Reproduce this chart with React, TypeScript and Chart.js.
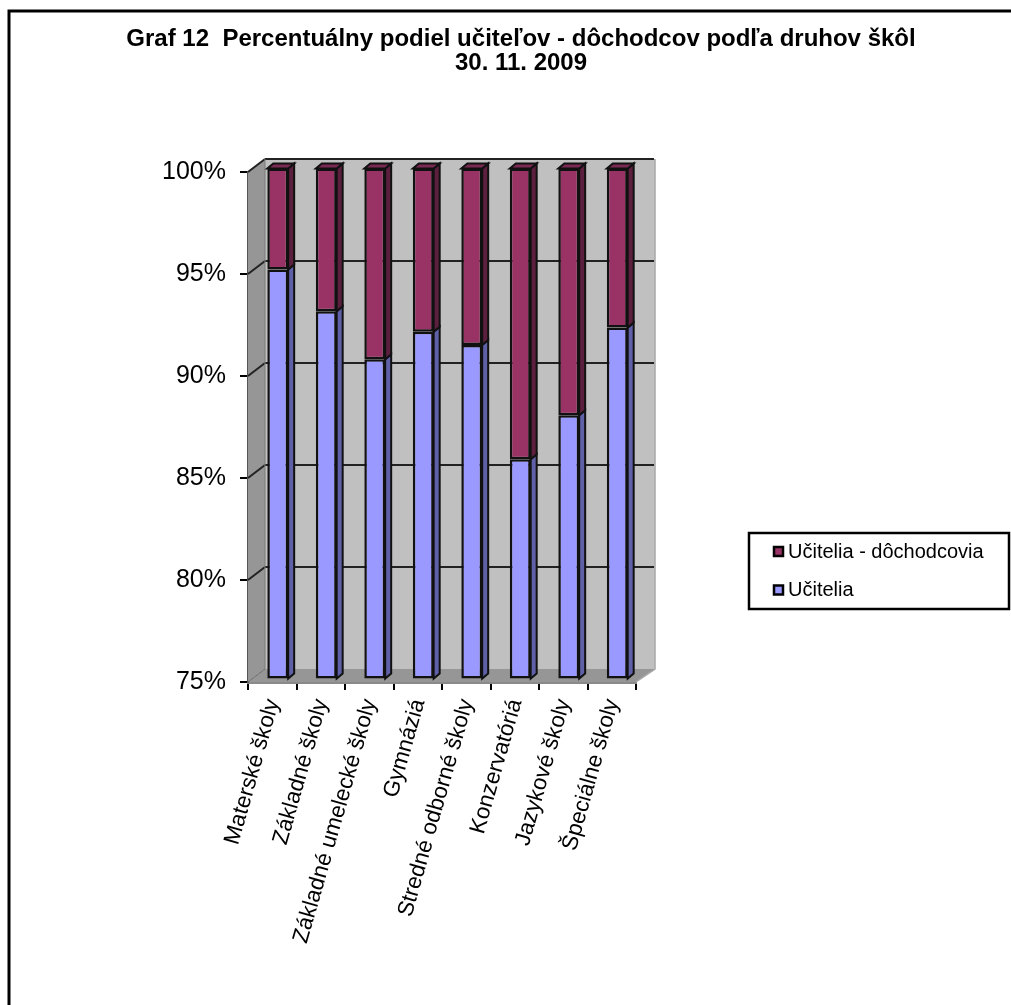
import React, { useEffect, useRef } from "react";
import { Chart, registerables } from "chart.js";

Chart.register(...registerables);

const FONT = '"Liberation Sans", Arial, sans-serif';

const titleLines = [
  "Graf 12  Percentuálny podiel učiteľov - dôchodcov podľa druhov škôl",
  "30. 11. 2009",
];
const categories = [
  "Materské školy",
  "Základné školy",
  "Základné umelecké školy",
  "Gymnáziá",
  "Stredné odborné školy",
  "Konzervatóriá",
  "Jazykové školy",
  "Špeciálne školy",
];
const teachers = [95.05, 93.0, 90.65, 92.0, 91.35, 85.75, 87.9, 92.2];
const retired = [4.95, 7.0, 9.35, 8.0, 8.65, 14.25, 12.1, 7.8];
const seriesNames = ["Učitelia", "Učitelia - dôchodcovia"];
const fills = ["#9999ff", "#993366"];
const sideFills = ["#6060a8", "#5c1f3e"];
const topFills = ["#7a7ad0", "#7a2952"];
const AXIS_MIN = 75;
const AXIS_MAX = 100;

const WALL_DX = 17;
const WALL_DY = -13;
const BAR_DX = 5.5;
const BAR_DY = -3.5;
const BAR_DEPTH_X = 6;
const BAR_DEPTH_Y = -5;

function poly(ctx: CanvasRenderingContext2D, pts: number[][], fill: string | null, stroke?: string, lw = 2) {
  ctx.beginPath();
  pts.forEach((p, i) => (i ? ctx.lineTo(p[0], p[1]) : ctx.moveTo(p[0], p[1])));
  if (fill) {
    ctx.closePath();
    ctx.fillStyle = fill;
    ctx.fill();
  }
  if (stroke) {
    ctx.strokeStyle = stroke;
    ctx.lineWidth = lw;
    ctx.stroke();
  }
}

const scenePlugin = {
  id: "scene3d",
  beforeDraw(chart: any) {
    const { ctx } = chart;
    ctx.save();
    ctx.fillStyle = "#ffffff";
    ctx.fillRect(0, 0, chart.width, chart.height);
    // outer chart frame (open at the right and bottom edges of the crop)
    ctx.strokeStyle = "#000000";
    ctx.lineWidth = 3;
    ctx.beginPath();
    ctx.moveTo(9, chart.height);
    ctx.lineTo(9, 11);
    ctx.lineTo(chart.width, 11);
    ctx.stroke();
    ctx.restore();
  },
  beforeDatasetsDraw(chart: any) {
    const { ctx, chartArea: a, scales } = chart;
    const y = scales.y;
    const bl = a.left + WALL_DX;
    const br = a.right + WALL_DX + 2;
    const bt = a.top + WALL_DY;
    const bb = a.bottom + WALL_DY;
    ctx.save();
    // back wall, side wall, floor
    poly(ctx, [[bl, bt], [br, bt], [br, bb], [bl, bb]], "#c0c0c0");
    poly(ctx, [[a.left, a.top], [bl, bt], [bl, bb], [a.left, a.bottom]], "#969696");
    poly(ctx, [[a.left, a.bottom], [a.right, a.bottom], [br, bb], [bl, bb]], "#969696");
    // gridlines follow the walls
    y.ticks.forEach((t: any) => {
      const py = y.getPixelForValue(t.value);
      const isFloor = t.value === y.min;
      poly(ctx, [[a.left, py], [bl, py + WALL_DY]], null, isFloor ? "#6e6e6e" : "#222222", isFloor ? 1 : 2);
      if (!isFloor) poly(ctx, [[bl, py + WALL_DY], [br - 1, py + WALL_DY]], null, "#222222", 2);
    });
    poly(ctx, [[bl, bt], [bl, bb]], null, "#7a7a7a", 1);
    poly(ctx, [[br, bt], [br, bb], [a.right, a.bottom]], null, "#a8a8a8", 1.5);
    ctx.restore();

    // bar depth faces, then shift the library's bars on top of them
    ctx.save();
    ctx.translate(BAR_DX, BAR_DY);
    chart.data.datasets.forEach((_: any, di: number) => {
      chart.getDatasetMeta(di).data.forEach((el: any) => {
        const hw = el.width / 2;
        const r = el.x + hw;
        const l = el.x - hw;
        poly(
          ctx,
          [[r, el.y], [r + BAR_DEPTH_X, el.y + BAR_DEPTH_Y], [r + BAR_DEPTH_X, el.base + BAR_DEPTH_Y], [r, el.base]],
          sideFills[di],
          "#111111",
          2,
        );
        if (di === chart.data.datasets.length - 1) {
          poly(
            ctx,
            [[l, el.y], [l + BAR_DEPTH_X, el.y + BAR_DEPTH_Y], [r + BAR_DEPTH_X, el.y + BAR_DEPTH_Y], [r, el.y]],
            topFills[di],
            "#111111",
            2,
          );
        }
      });
    });
  },
  afterDatasetsDraw(chart: any) {
    chart.ctx.restore();
    const { ctx } = chart;
    // legend, newest series first, as in the reference
    ctx.save();
    ctx.strokeStyle = "#000000";
    ctx.lineWidth = 2.5;
    ctx.strokeRect(749, 533, 260, 76);
    ctx.font = `20px ${FONT}`;
    ctx.textBaseline = "middle";
    ctx.textAlign = "left";
    const rows = [1, 0];
    rows.forEach((di, i) => {
      const cy = 552 + i * 38.5;
      ctx.fillStyle = fills[di];
      ctx.fillRect(774, cy - 5, 9, 9);
      ctx.strokeStyle = "#000000";
      ctx.strokeRect(774, cy - 5, 9, 9);
      ctx.fillStyle = "#000000";
      ctx.fillText(chart.data.datasets[di].label, 788, cy);
    });
    ctx.restore();
  },
};

export default function App() {
  const ref = useRef<HTMLCanvasElement | null>(null);
  useEffect(() => {
    const lower = teachers.map((v) => [AXIS_MIN, v]);
    const upper = teachers.map((v, i) => [v, v + retired[i]]);
    const chart = new Chart(ref.current as HTMLCanvasElement, {
      type: "bar",
      data: {
        labels: categories,
        datasets: [lower, upper].map((values, i) => ({
          label: seriesNames[i],
          data: values,
          backgroundColor: fills[i],
          borderColor: "#111111",
          borderWidth: 2.5,
          borderSkipped: false,
          barPercentage: 0.43,
          categoryPercentage: 1,
          grouped: false,
          clip: false,
        })),
      } as any,
      options: {
        responsive: false,
        animation: false,
        devicePixelRatio: 1,
        layout: { padding: { left: 31, right: 0, top: 0, bottom: 0 } },
        plugins: {
          legend: { display: false },
          tooltip: { enabled: false },
          title: {
            display: true,
            text: titleLines,
            color: "#000000",
            font: { family: FONT, size: 24, weight: "bold", lineHeight: 1 },
            padding: { top: 27, bottom: 97 },
          },
        },
        scales: {
          x: {
            grid: { drawOnChartArea: false, color: "#000000", lineWidth: 2, tickLength: 8 },
            border: { color: "#8a8a8a", width: 3 },
            ticks: {
              color: "#000000",
              font: { family: FONT, size: 22.5 },
              minRotation: 74,
              maxRotation: 74,
              autoSkip: false,
              padding: 6,
              labelOffset: 1,
            },
            afterFit(s: any) {
              s.height = 323;
            },
          },
          y: {
            min: AXIS_MIN,
            max: AXIS_MAX,
            grid: { drawOnChartArea: false, color: "#000000", lineWidth: 2, tickLength: 8 },
            border: { color: "#555555", width: 2 },
            ticks: {
              stepSize: 5,
              color: "#000000",
              font: { family: FONT, size: 25 },
              padding: 14,
              callback: (v: any) => `${v}%`,
            },
            afterFit(s: any) {
              s.width = 217;
            },
          },
          y2: {
            position: "right",
            display: true,
            grid: { display: false },
            border: { display: false },
            ticks: { display: false },
            afterFit(s: any) {
              s.width = 375;
            },
          },
        },
      } as any,
      plugins: [scenePlugin],
    });
    return () => chart.destroy();
  }, []);
  return (
    <div style={{ position: "fixed", left: 0, top: 0, width: 1011, height: 1005, overflow: "hidden" }}>
      <canvas ref={ref} width={1011} height={1005} style={{ display: "block" }} />
    </div>
  );
}
